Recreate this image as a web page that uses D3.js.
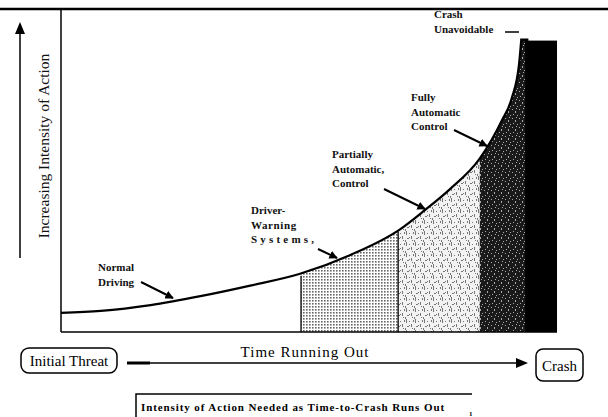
<!DOCTYPE html>
<html lang="en">
<head>
<meta charset="UTF-8">
<title>Intensity of Action Needed as Time-to-Crash Runs Out</title>
<script src="https://d3js.org/d3.v7.min.js"></script>
<style>
  body { margin: 0; background: #fff; }
  svg { display: block; font-family: "Liberation Serif", "Times New Roman", serif; }
  .lbl { font-size: 11px; font-weight: bold; fill: #111; }
</style>
</head>
<body>
<svg width="608" height="417"></svg>
<script>
// curve (time running out -> intensity of action)
const timeVals = [0, 0.8, 1.8, 2.8, 3.8, 4.8, 5.8, 6.8, 7.3, 7.8, 8.4, 8.85, 9.05, 9.2, 9.24];
const intensity = [0.6, 0.66, 0.84, 1.12, 1.45, 1.82, 2.4, 3.2, 3.8, 4.45, 5.4, 6.6, 7.3, 8.4, 9.1];

// shaded zones along the time axis
const zoneNames = ["Driver-Warning Systems", "Partially Automatic Control", "Fully Automatic Control", "Crash Unavoidable"];
const zoneEdges = [4.82, 6.77, 8.41, 9.32, 9.96];
const crashLevel = 9.1;

const svg = d3.select("svg");
const x = d3.scaleLinear().domain([0, 10]).range([61, 559]);
const y = d3.scaleLinear().domain([0, 10]).range([332, 12]);

const pts = timeVals.map((t, i) => [t, intensity[i]]);

// patterns for the stippled zones
const defs = svg.append("defs");
const p1 = defs.append("pattern").attr("id", "dots").attr("width", 3).attr("height", 3)
  .attr("patternUnits", "userSpaceOnUse");
p1.append("rect").attr("width", 3).attr("height", 3).attr("fill", "#fff");
p1.append("rect").attr("width", 1.6).attr("height", 1.6).attr("fill", "#666");

const p2 = defs.append("pattern").attr("id", "stip").attr("width", 9).attr("height", 11)
  .attr("patternUnits", "userSpaceOnUse");
p2.append("rect").attr("width", 9).attr("height", 11).attr("fill", "#f2f2f2");
[[1, 0, 1, 4], [4, 2, 1, 1], [6, 5, 1, 3], [2, 7, 2, 1], [7, 9, 1, 1], [0, 9, 1, 2], [4, 6, 1, 1], [8, 1, 1, 2]]
  .forEach(d => p2.append("rect").attr("x", d[0]).attr("y", d[1]).attr("width", d[2]).attr("height", d[3]).attr("fill", "#777"));

const p3 = defs.append("pattern").attr("id", "dark").attr("width", 7).attr("height", 9)
  .attr("patternUnits", "userSpaceOnUse");
p3.append("rect").attr("width", 7).attr("height", 9).attr("fill", "#1a1a1a");
[[1, 1, 1, 1], [4, 3, 1, 2], [2, 6, 1, 1], [6, 7, 1, 1], [5, 0, 1, 1]]
  .forEach(d => p3.append("rect").attr("x", d[0]).attr("y", d[1]).attr("width", d[2]).attr("height", d[3]).attr("fill", "#aaa"));

// area under the curve as clip
const area = d3.area().x(d => x(d[0])).y0(y(0)).y1(d => y(d[1])).curve(d3.curveMonotoneX);
defs.append("clipPath").attr("id", "under").append("path")
  .attr("d", area(pts.concat([[zoneEdges[4], crashLevel]])));

const fills = ["url(#dots)", "url(#stip)", "url(#dark)", "#000"];
const zones = svg.append("g").attr("clip-path", "url(#under)");
zoneNames.forEach((n, i) => {
  zones.append("rect")
    .attr("x", x(zoneEdges[i])).attr("y", y(10))
    .attr("width", x(zoneEdges[i + 1]) - x(zoneEdges[i]))
    .attr("height", y(0) - y(10))
    .attr("fill", fills[i]);
});
svg.append("rect")
  .attr("x", x(zoneEdges[3])).attr("y", y(crashLevel))
  .attr("width", x(zoneEdges[4]) - x(zoneEdges[3])).attr("height", y(0) - y(crashLevel))
  .attr("fill", "#000");
// thin separators between the first zones
[0, 1].forEach(i => {
  svg.append("line")
    .attr("x1", x(zoneEdges[i])).attr("x2", x(zoneEdges[i]))
    .attr("y1", y(0))
    .attr("y2", y(d3.least(pts, p => Math.abs(p[0] - zoneEdges[i]))[1]) + 2)
    .attr("stroke", "#000").attr("stroke-width", 1.3);
});

// frame
svg.append("line").attr("x1", 0).attr("x2", 608).attr("y1", 9).attr("y2", 9).attr("stroke", "#000").attr("stroke-width", 2.5);
svg.append("line").attr("x1", x(0)).attr("x2", x(0)).attr("y1", 10).attr("y2", y(0)).attr("stroke", "#000").attr("stroke-width", 1.5);
svg.append("line").attr("x1", x(0)).attr("x2", x(zoneEdges[4])).attr("y1", y(0)).attr("y2", y(0)).attr("stroke", "#000").attr("stroke-width", 1.5);

// curve
svg.append("path")
  .attr("d", d3.line().x(d => x(d[0])).y(d => y(d[1])).curve(d3.curveMonotoneX)(pts))
  .attr("fill", "none").attr("stroke", "#000").attr("stroke-width", 2.2);
svg.append("path").attr("d", `M${x(9.22)},${y(crashLevel) - 1}h7v3`).attr("fill", "none")
  .attr("stroke", "#000").attr("stroke-width", 2.5);

// arrow marker
defs.append("marker").attr("id", "ah").attr("viewBox", "0 0 10 10").attr("refX", 9).attr("refY", 5)
  .attr("markerWidth", 4.2).attr("markerHeight", 4.2).attr("orient", "auto")
  .append("path").attr("d", "M0,0L10,5L0,10z").attr("fill", "#000");

// annotations (pixel layout)
const notes = [
  { lines: ["Normal", "Driving"], x: 98, y: 271, arrow: [141, 282, 173, 298] },
  { lines: ["Driver-", "Warning", "Systems,"], x: 251, y: 214, ls: [0, 0.6, 3.2], arrow: [318, 249, 337, 258] },
  { lines: ["Partially", "Automatic,", "Control"], x: 332, y: 158, arrow: [384, 189, 425, 209] },
  { lines: ["Fully", "Automatic", "Control"], x: 411, y: 101, arrow: [454, 130, 487, 146] },
  { lines: ["Crash", "Unavoidable"], x: 434, y: 18, lh: 15 }
];
notes.forEach(n => {
  const t = svg.append("text").attr("class", "lbl").attr("x", n.x).attr("y", n.y);
  n.lines.forEach((l, i) => {
    t.append("tspan").attr("x", n.x).attr("dy", i ? (n.lh || 14.5) : 0)
      .attr("letter-spacing", n.ls ? n.ls[i] : 0).text(l);
  });
  if (n.arrow) {
    svg.append("line").attr("x1", n.arrow[0]).attr("y1", n.arrow[1]).attr("x2", n.arrow[2]).attr("y2", n.arrow[3])
      .attr("stroke", "#000").attr("stroke-width", 2).attr("marker-end", "url(#ah)");
  }
});
svg.append("line").attr("x1", 505).attr("x2", 519).attr("y1", 32).attr("y2", 32).attr("stroke", "#000").attr("stroke-width", 1.5);

// y axis arrow + title
svg.append("line").attr("x1", 20).attr("x2", 20).attr("y1", 258).attr("y2", 24)
  .attr("stroke", "#000").attr("stroke-width", 1.5);
svg.append("path").attr("d", "M15,34L20,22L25,34z").attr("fill", "#000");
svg.append("text").attr("transform", "translate(49,146) rotate(-90)")
  .attr("text-anchor", "middle").attr("font-size", 15.5).attr("fill", "#111")
  .text("Increasing Intensity of Action");

// bottom time arrow
svg.append("rect").attr("x", 21).attr("y", 348).attr("width", 96).attr("height", 25).attr("rx", 8)
  .attr("fill", "none").attr("stroke", "#000").attr("stroke-width", 1.5);
svg.append("text").attr("x", 69).attr("y", 366).attr("text-anchor", "middle").attr("font-size", 15).text("Initial Threat");
svg.append("line").attr("x1", 127).attr("x2", 520).attr("y1", 363).attr("y2", 363).attr("stroke", "#000").attr("stroke-width", 1.5);
svg.append("line").attr("x1", 127).attr("x2", 150).attr("y1", 363).attr("y2", 363).attr("stroke", "#000").attr("stroke-width", 3);
svg.append("path").attr("d", "M516,358L528,363L516,368z").attr("fill", "#000");
svg.append("text").attr("x", 305).attr("y", 357).attr("text-anchor", "middle").attr("font-size", 15)
  .attr("letter-spacing", 1).text("Time Running Out");
svg.append("rect").attr("x", 536).attr("y", 349).attr("width", 47).attr("height", 32).attr("rx", 7)
  .attr("fill", "none").attr("stroke", "#000").attr("stroke-width", 1.5);
svg.append("text").attr("x", 559.5).attr("y", 371).attr("text-anchor", "middle").attr("font-size", 15).text("Crash");

// caption box
svg.append("path").attr("d", "M136,417V394H472").attr("fill", "none").attr("stroke", "#000").attr("stroke-width", 1.5);
svg.append("text").attr("x", 141).attr("y", 411).attr("font-size", 11).attr("font-weight", "bold")
  .attr("letter-spacing", 0.9).text("Intensity of Action Needed as Time-to-Crash Runs Out");
svg.append("text").attr("x", 469).attr("y", 416).attr("font-size", 7).attr("font-weight", "bold").text("1");
</script>
</body>
</html>
